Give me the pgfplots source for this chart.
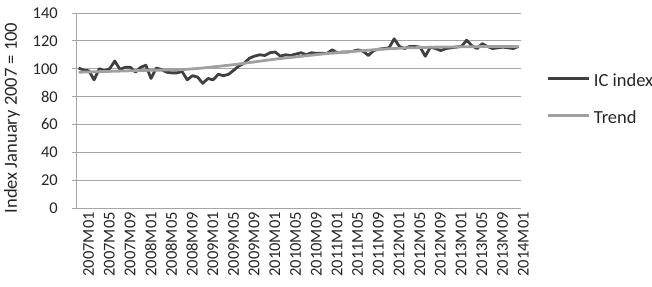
\documentclass[border=0pt]{standalone}
\usepackage{pgfplots}
\pgfplotsset{compat=1.18}
\usepackage{pgfplotstable}
\usepackage{fontspec}
\setmainfont{Carlito}
\definecolor{icdark}{HTML}{404040}
\definecolor{trendgray}{HTML}{A0A0A0}
\definecolor{gridgray}{HTML}{A6A6A6}

\pgfplotstableread{
idx ic trend
0 100.5 97.5
1 99 97.6
2 98.5 97.7
3 92 97.8
4 100 97.9
5 98.5 98
6 100 98.1
7 105.5 98.2
8 99.5 98.3
9 101 98.4
10 101 98.5
11 97.5 98.6
12 101 98.7
13 102.5 98.8
14 93 98.9
15 100.5 99
16 99.5 99
17 97.5 99.1
18 97 99.2
19 97 99.3
20 98 99.4
21 92 99.6
22 95 99.9
23 94 100.2
24 89.5 100.5
25 93 100.9
26 92 101.3
27 96 101.7
28 95 102.1
29 96 102.5
30 99 102.9
31 102 103.4
32 104 103.9
33 107.5 104.4
34 109 104.9
35 110 105.4
36 109.5 105.9
37 111.5 106.4
38 112 106.9
39 109 107.3
40 110 107.7
41 109.5 108.1
42 110.5 108.5
43 111.5 108.9
44 110 109.3
45 111.5 109.7
46 111 110.1
47 111 110.5
48 111 110.9
49 113.5 111.2
50 111.5 111.5
51 112 111.8
52 112 112.1
53 112.5 112.4
54 113.5 112.7
55 112.5 113
56 109.5 113.3
57 113 113.6
58 114 113.9
59 114.5 114.1
60 115 114.3
61 121.5 114.5
62 116 114.7
63 114.5 114.9
64 116 115
65 116 115.1
66 115.5 115.2
67 109 115.3
68 115.5 115.4
69 114.5 115.5
70 113 115.5
71 114.5 115.6
72 115 115.6
73 115.5 115.7
74 116 115.7
75 120.5 115.8
76 116.5 115.8
77 114.5 115.8
78 118 115.9
79 116 115.9
80 114.5 115.9
81 115 116
82 115.5 116
83 115 116
84 114.5 116
85 116 116
}\datatable

\begin{document}
\begin{tikzpicture}
\path[use as bounding box] (0,0) rectangle (652bp,287bp);
\begin{axis}[
  at={(76bp,79bp)}, anchor=south west,
  scale only axis,
  width=445bp, height=195bp,
  xmin=-0.5, xmax=85.5,
  ymin=0, ymax=140,
  ytick={0,20,...,140},
  xtick={0,4,...,84},
  xticklabels={2007M01,2007M05,2007M09,2008M01,2008M05,2008M09,2009M01,2009M05,2009M09,2010M01,2010M05,2010M09,2011M01,2011M05,2011M09,2012M01,2012M05,2012M09,2013M01,2013M05,2013M09,2014M01},
  axis x line=bottom, axis y line=left,
  axis line style={-, draw=gridgray, line width=0.75bp},
  x tick style={draw=none},
  y tick style={draw=gridgray, line width=0.75bp},
  tick align=outside, major tick length=4bp,
  ymajorgrids,
  grid style={draw=gridgray, line width=0.75bp},
  /pgf/number format/assume math mode=true,
  tick label style={font=\fontsize{16.5bp}{18bp}\selectfont, text=black!85},
  yticklabel style={anchor=east, inner sep=0pt, xshift=-14bp},
  xticklabel style={rotate=90, anchor=east, inner sep=0pt, yshift=-10bp},
  ylabel={Index January 2007 = 100},
  ylabel style={at={(axis description cs:-0.1438,0.4615)}, anchor=center, font=\fontsize{18.5bp}{20bp}\selectfont, text=black!85},
  legend style={at={(axis description cs:1.056,0.684)}, anchor=north west, draw=none, fill=none, inner sep=0pt,
    font=\fontsize{18.5bp}{20bp}\selectfont, text=black!85, row sep=21bp,
    nodes={inner sep=0pt, text height=12bp, text depth=4bp},
    /tikz/every odd column/.append style={column sep=4bp}},
  legend cell align=left,
  legend image code/.code={\draw[#1] (0bp,4.5bp) -- (41bp,4.5bp);},
  clip=false,
]
\addplot[icdark, line width=2.8bp, line join=round, mark=none] table[x=idx, y=ic] {\datatable};
\addlegendentry{IC index}
\addplot[trendgray, line width=2.8bp, line join=round, mark=none] table[x=idx, y=trend] {\datatable};
\addlegendentry{Trend}
\end{axis}
\end{tikzpicture}
\end{document}
